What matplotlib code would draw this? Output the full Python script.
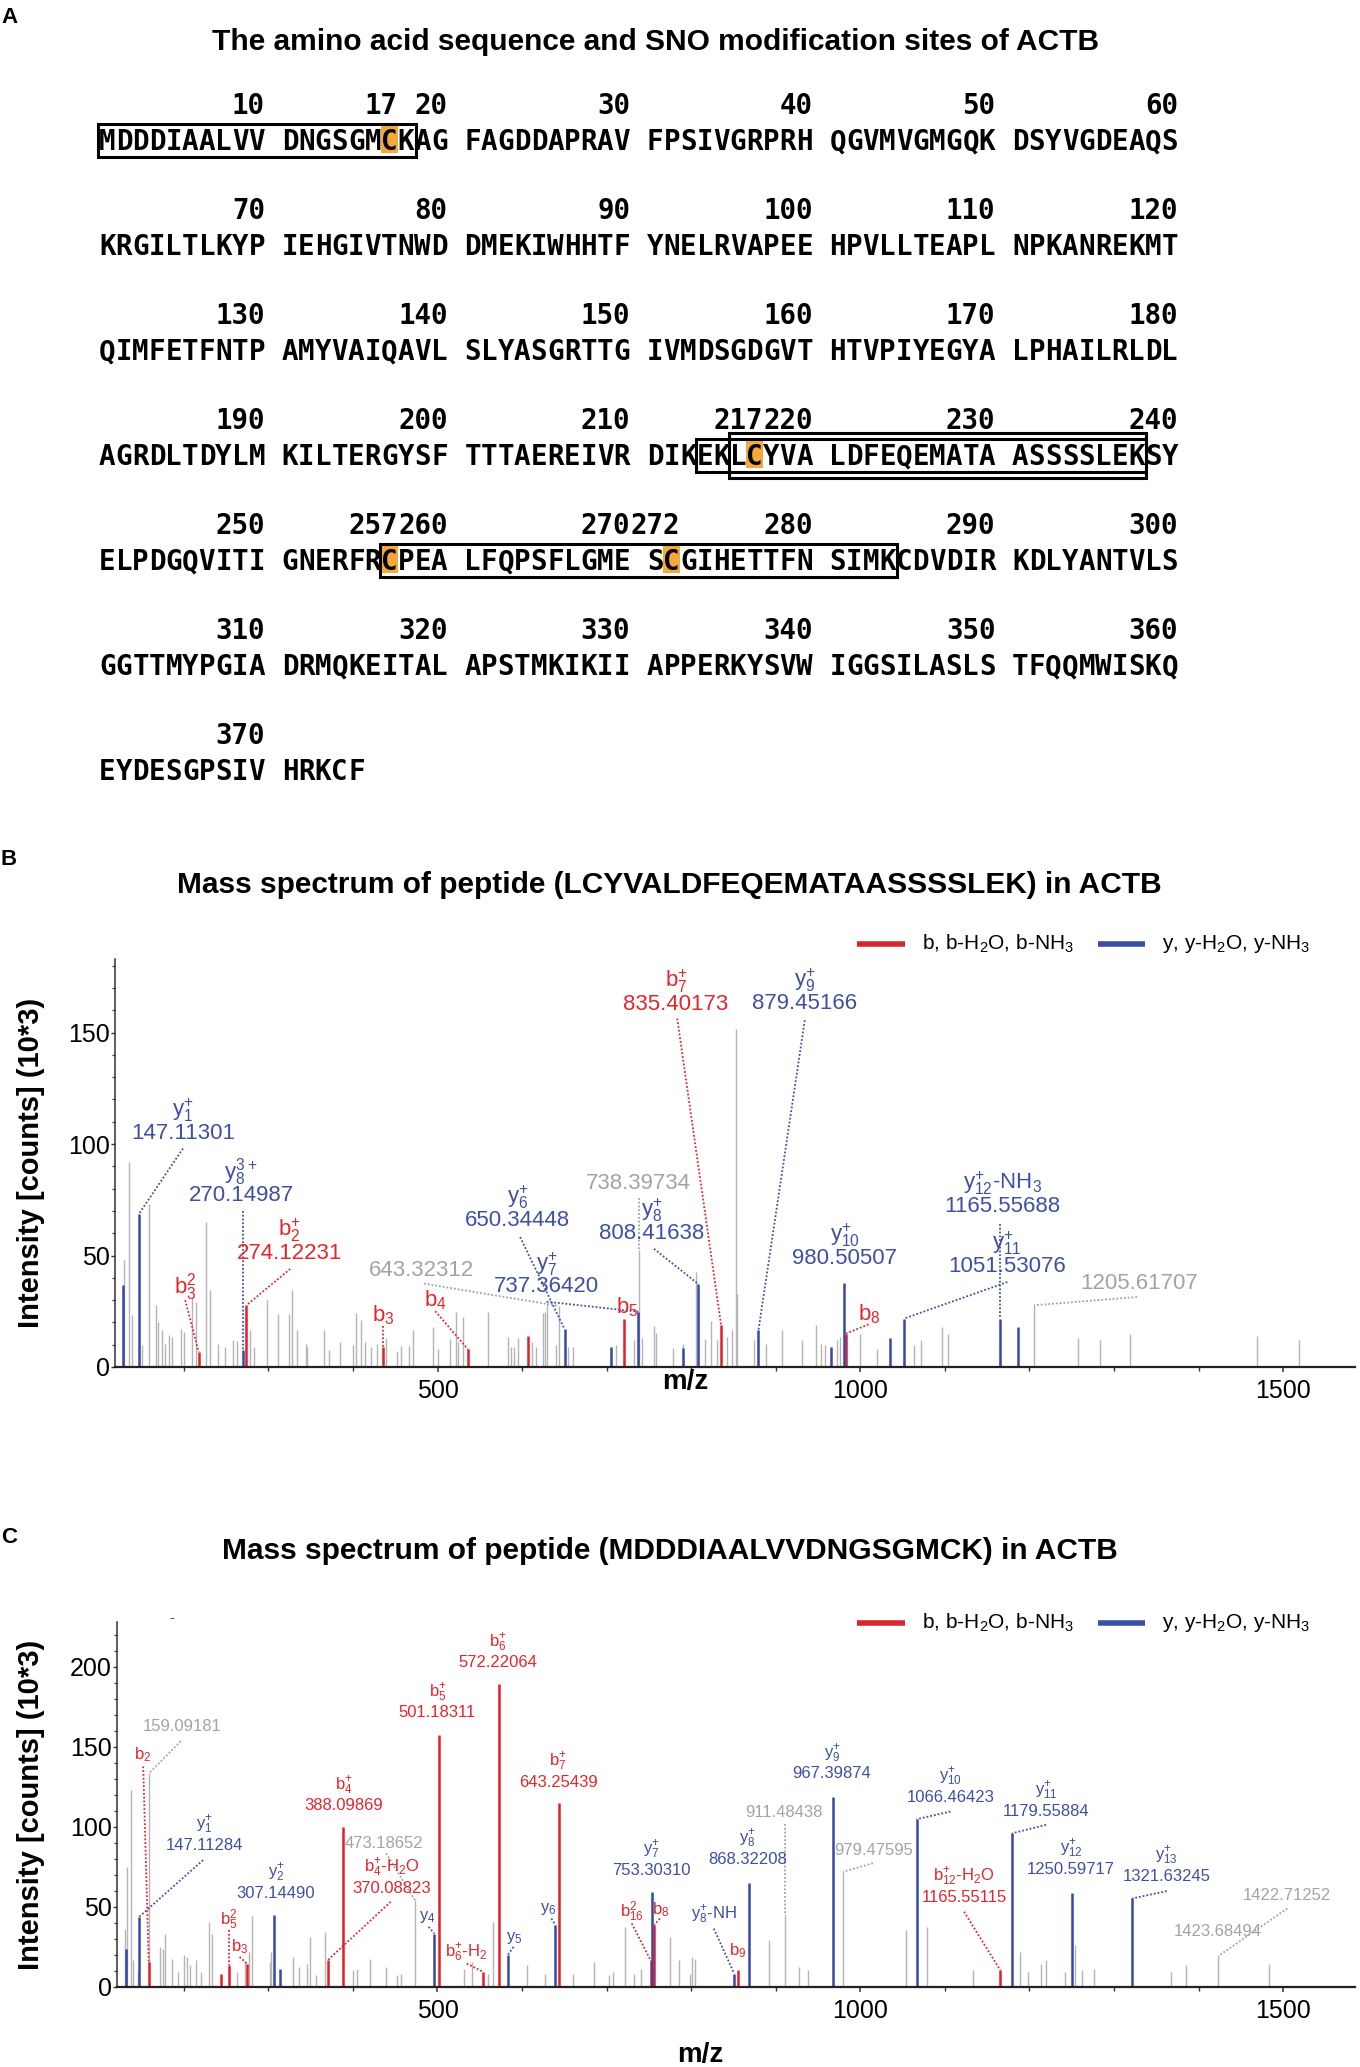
import numpy as np
import matplotlib.pyplot as plt
from matplotlib import font_manager
from matplotlib.font_manager import FontProperties
from matplotlib.patches import Rectangle
from matplotlib.ticker import MultipleLocator, FixedLocator


def pick_font(*names):
    for name in names:
        try:
            font_manager.findfont(FontProperties(family=name), fallback_to_default=False)
            return name
        except ValueError:
            continue
    return 'DejaVu Sans'


SANS = pick_font('Liberation Sans', 'Arial')
NARROW = pick_font('Liberation Sans Narrow', 'Arial Narrow', SANS)
MONO = pick_font('DejaVu Sans Mono', 'Liberation Mono')
plt.rcParams['font.family'] = [SANS, 'DejaVu Sans']
plt.rcParams['mathtext.default'] = 'regular'

# ---------------- panel A : ACTB sequence ----------------
actb_seq = ("MDDDIAALVVDNGSGMCKAGFAGDDAPRAVFPSIVGRPRHQGVMVGMGQKDSYVGDEAQS"
            "KRGILTLKYPIEHGIVTNWDDMEKIWHHTFYNELRVAPEEHPVLLTEAPLNPKANREKMT"
            "QIMFETFNTPAMYVAIQAVLSLYASGRTTGIVMDSGDGVTHTVPIYEGYALPHAILRLDL"
            "AGRDLTDYLMKILTERGYSFTTTAEREIVRDIKEKLCYVALDFEQEMATAASSSSLEKSY"
            "ELPDGQVITIGNERFRCPEALFQPSFLGMESCGIHETTFNSIMKCDVDIRKDLYANTVLS"
            "GGTTMYPGIADRMQKEITALAPSTMKIKIIAPPERKYSVWIGGSILASLSTFQQMWISKQ"
            "EYDESGPSIVHRKCF")
sno_sites = [17, 217, 257, 272]
peptide_start = [1, 214, 216, 257]
peptide_end = [18, 238, 238, 284]

# ---------------- panel B : LCYVALDFEQEMATAASSSSLEK ----------------
grey_mz_b = [129.4, 134.7, 138.4, 150.5, 158.4, 167.4, 170.0, 173.7, 178.0, 182.2, 185.9, 196.4,
             200.1, 209.6, 214.9, 226.5, 230.8, 240.3, 249.2, 258.2, 262.4, 278.3, 282.5, 298.3,
             311.0, 324.7, 328.4, 333.7, 344.3, 345.9, 365.4, 371.7, 384.9, 399.7, 403.4, 409.2,
             414.5, 420.8, 428.8, 439.0, 451.7, 456.4, 466.7, 471.4, 495.1, 501.0, 514.8, 521.9,
             523.9, 529.8, 560.1, 583.8, 586.9, 590.9, 594.8, 611.4, 616.5, 625.2, 627.1, 629.1,
             640.1, 643.3, 654.7, 659.9, 711.1, 732.4, 738.4, 741.5, 756.4, 758.4, 778.9, 790.7,
             805.7, 816.3, 823.4, 830.1, 842.8, 848.2, 852.5, 854.7, 874.0, 888.6, 907.4, 931.6,
             947.8, 953.2, 958.5, 972.0, 976.3, 1000.0, 1019.4, 1063.5, 1071.6, 1096.9, 1103.9,
             1164.7, 1205.6, 1257.3, 1283.1, 1319.2, 1468.9, 1518.4]
grey_int_b = [47.8, 91.9, 23.2, 9.7, 73.3, 27.7, 20.2, 16.4, 10.5, 14.2, 13.5, 17.2,
              15.7, 31.4, 29.2, 65.0, 34.4, 10.5, 9.0, 12.0, 11.7, 16.4, 9.0, 29.9,
              23.9, 23.9, 34.4, 16.4, 10.5, 9.0, 16.4, 7.5, 11.2, 9.7, 24.4, 20.9,
              11.2, 9.0, 10.5, 12.9, 7.3, 9.6, 9.6, 16.6, 18.1, 7.9, 12.4, 24.8,
              11.4, 22.6, 24.8, 13.3, 9.1, 8.8, 12.9, 11.4, 9.1, 24.1, 24.8, 28.6,
              9.9, 27.4, 9.1, 9.1, 9.9, 12.1, 52.5, 12.9, 18.4, 15.1, 8.4, 10.3,
              42.8, 12.4, 20.8, 12.1, 13.5, 16.4, 151.7, 32.9, 12.0, 10.5, 16.4, 12.0,
              18.7, 10.5, 9.7, 12.0, 13.5, 15.0, 8.2, 9.7, 12.0, 17.9, 15.0,
              10.5, 27.7, 13.2, 12.0, 15.0, 13.8, 12.0]
red_mz_b = [217.6, 274.1, 435.5, 536.0, 606.6, 720.7, 835.4, 983.0]
red_int_b = [6.7, 27.7, 9.0, 7.9, 13.9, 21.4, 18.7, 15.0]
blue_mz_b = [127.8, 147.1, 270.1, 650.3, 705.2, 737.4, 790.7, 808.4, 879.5, 965.4, 980.5,
             1035.5, 1051.5, 1165.6, 1186.3]
blue_int_b = [36.6, 68.8, 7.5, 16.9, 9.1, 24.8, 8.4, 37.2, 16.4, 9.0, 37.7,
              13.0, 21.7, 21.7, 18.0]

ann_b_kind = ['y', 'y', 'b', 'b', 'b', 'b', 'o', 'y', 'y', 'b', 'o', 'y', 'b', 'y', 'y', 'b',
              'y', 'y', 'o']
ann_b_ion = ['y$_1^{+}$', 'y$_8^{3+}$', 'b$_2^{+}$', 'b$_3^2$', 'b$_3$', 'b$_4$', '', 'y$_6^{+}$',
             'y$_7^{+}$', 'b$_5$', '', 'y$_8^{+}$', 'b$_7^{+}$', 'y$_9^{+}$', 'y$_{10}^{+}$', 'b$_8$',
             'y$_{12}^{+}$-NH$_3$', 'y$_{11}^{+}$', '']
ann_b_mz = ['147.11301', '270.14987', '274.12231', '', '', '', '643.32312', '650.34448',
            '737.36420', '', '738.39734', '808.41638', '835.40173', '879.45166', '980.50507', '',
            '1165.55688', '1051.53076', '1205.61707']
ann_b_peak = [147.1, 270.1, 274.1, 217.6, 435.5, 536.0, 643.3, 650.3, 737.4, 720.7, 738.4,
              808.4, 835.4, 879.5, 980.5, 983.0, 1165.6, 1051.5, 1205.6]

# ---------------- panel C : MDDDIAALVVDNGSGMCK ----------------
grey_mz_c = [130.4, 133.1, 137.3, 139.9, 146.3, 159.1, 171.6, 175.3, 178.0, 185.9, 192.7, 200.7,
             203.3, 207.0, 214.9, 220.2, 229.7, 233.4, 262.4, 271.9, 277.2, 280.9, 302.0, 303.6,
             329.5, 336.4, 345.9, 349.6, 356.4, 367.0, 399.7, 405.0, 419.8, 439.3, 452.5, 456.7,
             473.2, 531.7, 541.2, 559.7, 566.0, 605.6, 626.8, 660.0, 684.8, 703.3, 707.0, 721.8,
             732.4, 740.3, 774.6, 785.2, 798.7, 801.0, 804.1, 892.3, 911.5, 927.3, 938.6, 979.5,
             1054.4, 1078.6, 1133.5, 1188.4, 1198.1, 1214.2, 1219.6, 1242.2, 1253.5, 1261.6,
             1276.2, 1367.7, 1384.9, 1423.1, 1483.4]
grey_int_c = [36.5, 75.2, 123.2, 16.7, 9.4, 133.6, 25.1, 24.0, 33.4, 17.7, 9.4, 19.8,
              18.8, 13.6, 16.7, 9.4, 40.7, 33.4, 9.4, 15.7, 21.9, 44.3, 15.7, 21.9,
              18.8, 12.5, 14.6, 31.3, 7.3, 34.5, 10.4, 11.5, 17.7, 12.5, 7.3, 8.4,
              54.3, 11.5, 15.7, 8.4, 40.7, 13.6, 8.4, 8.4, 15.7, 7.3, 9.4, 37.6,
              8.4, 11.5, 31.3, 16.7, 8.4, 18.8, 17.7, 29.2, 45.9, 12.5, 10.4, 72.0,
              35.5, 37.6, 10.4, 21.9, 9.4, 14.6, 16.7, 9.4, 26.1, 10.4,
              11.5, 9.4, 13.6, 19.2, 14.2]
red_mz_c = [158.5, 244.0, 253.0, 274.6, 370.1, 388.1, 501.2, 554.4, 572.2, 643.3, 752.0, 756.0,
            855.2, 1165.6]
red_int_c = [15.7, 8.4, 13.6, 14.6, 16.7, 100.2, 157.6, 9.4, 189.0, 114.8, 16.7, 38.6,
             10.4, 10.4]
blue_mz_c = [132.0, 147.1, 307.1, 313.7, 496.3, 582.9, 639.4, 753.3, 850.9, 868.3, 967.4,
             1066.5, 1179.6, 1250.6, 1321.6]
blue_int_c = [24.0, 43.8, 44.9, 11.5, 33.4, 19.8, 38.6, 59.5, 8.4, 65.1, 118.6,
              104.8, 96.0, 58.9, 55.3]

ann_c_kind = ['b', 'o', 'y', 'b', 'b', 'y', 'b', 'o', 'b', 'y', 'b', 'b', 'b', 'y', 'y', 'b',
              'b', 'b', 'y', 'y', 'b', 'y', 'o', 'y', 'o', 'y', 'b', 'y', 'y', 'y', 'o', 'o']
ann_c_ion = ['b$_2$', '', 'y$_1^{+}$', 'b$_5^2$', 'b$_3$', 'y$_2^{+}$', 'b$_4^{+}$', '',
             'b$_4^{+}$-H$_2$O', 'y$_4$', 'b$_6^{+}$-H$_2$', 'b$_5^{+}$', 'b$_6^{+}$', 'y$_5$', 'y$_6$',
             'b$_7^{+}$', 'b$_{16}^2$', 'b$_8$', 'y$_7^{+}$', 'y$_8^{+}$-NH', 'b$_9$', 'y$_8^{+}$', '',
             'y$_9^{+}$', '', 'y$_{10}^{+}$', 'b$_{12}^{+}$-H$_2$O', 'y$_{11}^{+}$', 'y$_{12}^{+}$',
             'y$_{13}^{+}$', '', '']
ann_c_mz = ['', '159.09181', '147.11284', '', '', '307.14490', '388.09869', '473.18652',
            '370.08823', '', '', '501.18311', '572.22064', '', '', '643.25439', '', '',
            '753.30310', '', '', '868.32208', '911.48438', '967.39874', '979.47595', '1066.46423',
            '1165.55115', '1179.55884', '1250.59717', '1321.63245', '1422.71252', '1423.68494']
ann_c_peak = [158.5, 159.1, 147.1, 253.0, 274.6, 307.1, 388.1, 473.2, 370.1, 496.3, 554.4,
              501.2, 572.2, 582.9, 639.4, 643.3, 752.0, 756.0, 753.3, 850.9, 855.2, 868.3,
              911.5, 967.4, 979.5, 1066.5, 1165.6, 1179.6, 1250.6, 1321.6, 1423.1, 1423.1]

# ---------------- layout (label anchors / leader starts, in data units) ----------------
pos_b = [(199, 104.6), (267.7, 77), (324.7, 50.8), (201.7, 35.9), (435.6, 23.2), (497.4, 29.9),
         (481.6, 43.4), (595, 65.8), (629.4, 35.9), (724, 27), (737.6, 82.2), (753.5, 59.8),
         (782, 162.8), (934.3, 163), (981.7, 48.6), (1010.8, 23.9), (1168.5, 71.8),
         (1173.9, 44.9), (1330, 37.4)]
lead_b = [(199, 98), (270.1, 70), (325.8, 44), (201.7, 30), (435.5, 18.5), (497.4, 25),
          (484, 37.4), (597.7, 58.3), (629, 29.3), None, (738.4, 76), (756, 53),
          (783.5, 156.3), (934.3, 155.5), None, (1009.7, 19.1), (1165.6, 64.3),
          (1173.9, 38.1), (1327.3, 31.4)]
pos_c = [(151.6, 145.1), (198, 162.9), (224.4, 88.7), (253, 41.8), (266.1, 25), (308.9, 58.5),
         (389.2, 113.2), (436.7, 89.8), (445.7, 61.6), (488, 43.8), (534.4, 21.3), (500, 171.2),
         (571.3, 202.5), (590.9, 30.3), (631, 49), (642.6, 127.8), (729.7, 47), (764, 48.4),
         (752.4, 73), (826.7, 44.9), (855.2, 23), (867, 79.8), (910.1, 109), (966.6, 133.2),
         (1016.1, 85), (1106.6, 118.6), (1122.7, 56), (1219.6, 109.6), (1249.2, 73.5),
         (1362.3, 69.3), (1504.9, 57.4), (1423.1, 34.5)]
lead_c = [(152, 137.8), (196.4, 153.5), (222.8, 79.3), (253, 35.5), (266, 18.8), None, None,
          (439.3, 83.5), (444.6, 53.2), (489.5, 37.6), (534.4, 14.6), None, None, (589.9, 25),
          (634.7, 42.8), None, (729.7, 39.7), (763, 42.8), None, (826.7, 36.5), None, None,
          (911.5, 102), None, (1015, 77.3), (1106.6, 109.6), (1122.7, 47), (1219.6, 101.3),
          None, (1362.3, 59.9), (1504.9, 49.1), None]

RED, BLUE, GREY = '#e41e26', '#3549a6', '#b5b5b5'
TXT = {'b': '#e3262c', 'y': '#3f4fa3', 'o': '#a3a3a3'}
ORANGE = '#f5a93a'

W, H = 1360, 2067
fig = plt.figure(figsize=(W / 100, H / 100), dpi=100)

# overlay in pixel units for panel A, titles and legends
ov = fig.add_axes([0, 0, 1, 1])
ov.set_xlim(0, W)
ov.set_ylim(H, 0)
ov.axis('off')

X0, CW = 99, 16.6
BASE0, PITCH, NUM_OFF = 150, 105, 36


def col_of(r):
    p = (r - 1) % 60
    return p + p // 10


def base_of(r):
    return BASE0 + ((r - 1) // 60) * PITCH


ov.text(1, 23, 'A', fontsize=16, fontweight='bold', va='baseline')
ov.text(655, 50, 'The amino acid sequence and SNO modification sites of ACTB',
        fontsize=21.5, fontweight='bold', ha='center', va='baseline')

for i, aa in enumerate(actb_seq):
    r = i + 1
    ov.text(X0 + (col_of(r) + 0.5) * CW, base_of(r), aa, family=MONO, fontweight='bold',
            fontsize=19.8, ha='center', va='baseline', zorder=4)

num_labels = sorted(set(range(10, len(actb_seq) + 1, 10)) | set(sno_sites))
for n in num_labels:
    ov.text(X0 + (col_of(n) + 1) * CW, base_of(n) - NUM_OFF, str(n), family=MONO,
            fontweight='bold', fontsize=19.8, ha='right', va='baseline')

for s in sno_sites:
    ov.add_patch(Rectangle((X0 + col_of(s) * CW, base_of(s) - 24), CW, 27,
                           fc=ORANGE, ec='none', zorder=2))

box_tall = [False, False, True, False]
for s, e, tall in zip(peptide_start, peptide_end, box_tall):
    top, bot = (32, 13) if tall else (26, 6.5)
    x = X0 + col_of(s) * CW - 1
    w = (col_of(e) + 1 - col_of(s)) * CW + 2.5
    ov.add_patch(Rectangle((x, base_of(s) - top), w, top + bot, fill=False,
                           ec='black', lw=2.2, zorder=5))

# panel titles
ov.text(1, 865, 'B', fontsize=16, fontweight='bold', va='baseline')
ov.text(669, 893, 'Mass spectrum of peptide (LCYVALDFEQEMATAASSSSLEK) in ACTB',
        fontsize=21.5, fontweight='bold', ha='center', va='baseline')
ov.text(1, 1543, 'C', fontsize=16, fontweight='bold', va='baseline')
ov.text(670, 1559, 'Mass spectrum of peptide (MDDDIAALVVDNGSGMCK) in ACTB',
        fontsize=21.5, fontweight='bold', ha='center', va='baseline')

# legends
for ly in (944, 1623):
    ov.plot([857, 905], [ly, ly], color='#d7262f', lw=4, solid_capstyle='butt')
    ov.text(922, ly, 'b, b-H$_2$O, b-NH$_3$', fontsize=15, va='center', ha='left',
            family=[NARROW, 'DejaVu Sans'])
    ov.plot([1098, 1145], [ly, ly], color='#3b4fa8', lw=4, solid_capstyle='butt')
    ov.text(1162, ly, 'y, y-H$_2$O, y-NH$_3$', fontsize=15, va='center', ha='left',
            family=[NARROW, 'DejaVu Sans'])


def px_axes(x0, ytop, x1, ybot):
    return fig.add_axes([x0 / W, 1 - ybot / H, (x1 - x0) / W, (ybot - ytop) / H])


def spectrum(ax, grey, red, blue, xlim, ylim, ymajor, ylab_x, mz_xy):
    ax.set_facecolor('none')
    ax.vlines(grey[0], 0, grey[1], colors=GREY, lw=1.0, zorder=1)
    ax.vlines(red[0], 0, red[1], colors=RED, lw=1.8, zorder=2)
    ax.vlines(blue[0], 0, blue[1], colors=BLUE, lw=1.8, zorder=2)
    ax.set_xlim(*xlim)
    ax.set_ylim(*ylim)
    for sp in ('top', 'right'):
        ax.spines[sp].set_visible(False)
    ax.spines['bottom'].set_linewidth(1.6)
    ax.spines['bottom'].set_color('#222222')
    ax.spines['left'].set_linewidth(1.1)
    ax.spines['left'].set_color('#333333')
    ax.xaxis.set_major_locator(FixedLocator([500, 1000, 1500]))
    ax.xaxis.set_minor_locator(MultipleLocator(100))
    ax.yaxis.set_major_locator(FixedLocator(ymajor))
    ax.yaxis.set_minor_locator(MultipleLocator(10))
    ax.tick_params(axis='x', which='major', length=3.8, width=1.1, pad=4.5, labelsize=18,
                   color='#333333')
    ax.tick_params(axis='x', which='minor', length=3.0, width=1.0, color='#333333')
    ax.tick_params(axis='y', which='major', length=3.0, width=1.0, pad=0.8, labelsize=18,
                   color='#333333')
    ax.tick_params(axis='y', which='minor', length=2.2, width=0.9, color='#333333')
    ax.text(ylab_x, 0.5, 'Intensity [counts] (10*3)', transform=ax.transAxes, rotation=90,
            ha='center', va='center', fontsize=21, fontweight='bold')
    ax.text(mz_xy[0], mz_xy[1], 'm/z', transform=ax.transAxes, ha='center', va='center',
            fontsize=20, fontweight='bold', clip_on=False)


def annotate(ax, kinds, ions, nums, peaks, pos, lead, dy, fsize, tables):
    fam = [NARROW, 'DejaVu Sans']
    for k, ion, num, pk, (tx, ty), ld in zip(kinds, ions, nums, peaks, pos, lead):
        c = TXT[k]
        if num:
            ax.text(tx, ty, num, color=c, fontsize=fsize, family=fam, ha='center',
                    va='center', clip_on=False, zorder=4)
            if ion:
                ax.text(tx, ty + dy, ion, color=c, fontsize=fsize, family=fam, ha='center',
                        va='center', clip_on=False, zorder=4)
        else:
            ax.text(tx, ty, ion, color=c, fontsize=fsize, family=fam, ha='center',
                    va='center', clip_on=False, zorder=4)
        if ld is not None:
            mzs, ints = tables[k]
            j = int(np.argmin(np.abs(np.asarray(mzs) - pk)))
            ax.plot([ld[0], mzs[j]], [ld[1], ints[j]], color=c, lw=1.3,
                    ls=(0, (1, 1.1)), zorder=3)


# panel B
axb = px_axes(115, 959, 1355, 1367)
spectrum(axb, (grey_mz_b, grey_int_b), (red_mz_b, red_int_b), (blue_mz_b, blue_int_b),
         (118.6, 1585), (0, 183), [0, 50, 100, 150], -0.0677, (0.4597, -0.037))
annotate(axb, ann_b_kind, ann_b_ion, ann_b_mz, ann_b_peak, pos_b, lead_b, 10.4,
         16 if NARROW == SANS else 17.5,
         {'b': (red_mz_b, red_int_b), 'y': (blue_mz_b, blue_int_b),
          'o': (grey_mz_b, grey_int_b)})

# panel C
axc = px_axes(117, 1622, 1355, 1987)
spectrum(axc, (grey_mz_c, grey_int_c), (red_mz_c, red_int_c), (blue_mz_c, blue_int_c),
         (121, 1585), (0, 228), [0, 50, 100, 150, 200], -0.0695, (0.471, -0.186))
annotate(axc, ann_c_kind, ann_c_ion, ann_c_mz, ann_c_peak, pos_c, lead_c, 12.8,
         12 if NARROW == SANS else 14,
         {'b': (red_mz_c, red_int_c), 'y': (blue_mz_c, blue_int_c),
          'o': (grey_mz_c, grey_int_c)})
axc.text(185.7, 230.6, '-', color=BLUE, fontsize=10, ha='center', va='center', clip_on=False)

fig.savefig('out.png', dpi=100)
